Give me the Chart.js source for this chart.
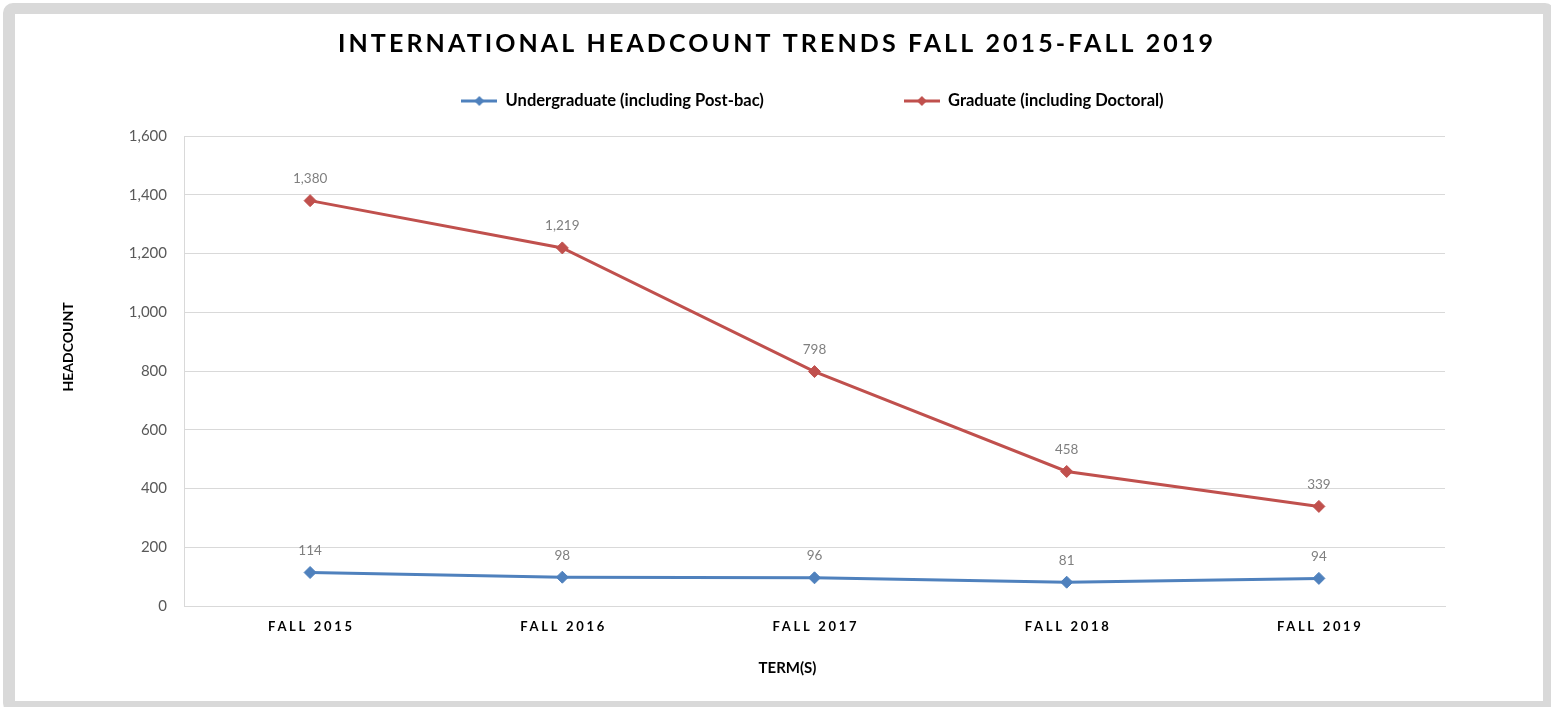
<!DOCTYPE html>
<html><head><meta charset="utf-8">
<script src="https://cdn.jsdelivr.net/npm/chart.js@4/dist/chart.umd.min.js"></script>
<style>
html,body{margin:0;padding:0;background:#fff;overflow:hidden;width:1551px;height:707px;}
#frame{position:absolute;left:3px;top:3px;width:1552px;height:710px;box-sizing:border-box;border:12px solid #d9d9d9;border-top-width:11px;border-radius:10px;background:#fff;}
#c{position:absolute;left:0;top:0;}
</style></head><body>
<div id="frame"></div>
<canvas id="c" width="1551" height="707"></canvas>
<script>
// ---- data ----
const categories = ['FALL 2015', 'FALL 2016', 'FALL 2017', 'FALL 2018', 'FALL 2019'];
const undergraduate = [114, 98, 96, 81, 94];
const graduate = [1380, 1219, 798, 458, 339];
const seriesNames = ['Undergraduate (including Post-bac)', 'Graduate (including Doctoral)'];
const yTickValues = [0, 200, 400, 600, 800, 1000, 1200, 1400, 1600];
const chartTitle = 'INTERNATIONAL HEADCOUNT TRENDS FALL 2015-FALL 2019';
const yAxisTitle = 'HEADCOUNT';
const xAxisTitle = 'TERM(S)';

// ---- styling ----
const FAMILY = "Lato, 'Open Sans', 'Liberation Sans', sans-serif";
const BLUE = '#4f81bd';
const RED = '#c0504d';
const GRID = '#d9d9d9';
const TITLE_SIZE = 25;
const TITLE_TARGET_W = 875;
const TITLE_CENTER_X = 775.5;
const XTICK_SIZE = 13;
const XTICK_TARGET_W = 84;
const LEGEND_SIZE = 16.5;
const LEGEND_GAP = 140;
const LEGEND_CENTER_X = 812.5;
const LEGEND_CENTER_Y = 101;
const LEGEND_BOX_H = 68;

Chart.defaults.font.family = FAMILY;

function measure(text, font) {
  const g = document.createElement('canvas').getContext('2d');
  g.font = font;
  return g.measureText(text).width;
}
const titleSpacing = (TITLE_TARGET_W - measure(chartTitle, 'bold ' + TITLE_SIZE + 'px ' + FAMILY)) / (chartTitle.length - 1);
const xTickSpacing = (XTICK_TARGET_W - measure(categories[0], 'bold ' + XTICK_SIZE + 'px ' + FAMILY)) / (categories[0].length - 1);

function legendMarker(color) {
  const c = document.createElement('canvas');
  c.width = 36; c.height = 14;
  const g = c.getContext('2d');
  g.strokeStyle = color; g.lineWidth = 3;
  g.beginPath(); g.moveTo(0, 7); g.lineTo(36, 7); g.stroke();
  g.fillStyle = color;
  g.beginPath(); g.moveTo(18, 2); g.lineTo(23, 7); g.lineTo(18, 12); g.lineTo(13, 7); g.closePath(); g.fill();
  return c;
}
const markers = [legendMarker(BLUE), legendMarker(RED)];

function wrap(obj, name, before) {
  const orig = obj[name];
  obj[name] = function () {
    const ctx = this.ctx;
    ctx.save();
    before.call(this, ctx);
    const r = orig.apply(this, arguments);
    ctx.restore();
    return r;
  };
}

const patches = {
  id: 'patches',
  beforeLayout(chart) {
    const lg = chart.legend;
    if (lg && !lg._patched) {
      lg._patched = true;
      const fit0 = lg.fit;
      lg.fit = function () { fit0.apply(this, arguments); this.height = LEGEND_BOX_H; };
      const key = typeof lg._draw === 'function' ? '_draw' : 'draw';
      wrap(lg, key, function (ctx) {
        const dy = (LEGEND_CENTER_Y - LEGEND_SIZE / 2) - (this.top + this.options.labels.padding);
        const dx = LEGEND_CENTER_X - (this.left + this.right) / 2;
        ctx.translate(dx, dy);
      });
    }
    const tb = chart.titleBlock;
    if (tb && !tb._patched) {
      tb._patched = true;
      wrap(tb, 'draw', function (ctx) {
        ctx.letterSpacing = titleSpacing + 'px';
        ctx.translate(TITLE_CENTER_X - (this.left + this.right) / 2 + titleSpacing / 2, 0);
      });
    }
  },
  beforeDraw(chart) {
    const x = chart.scales.x, y = chart.scales.y;
    if (x && !x._patched) {
      x._patched = true;
      wrap(x, 'drawLabels', function (ctx) { ctx.letterSpacing = xTickSpacing + 'px'; ctx.translate(xTickSpacing / 2, 0); });
      wrap(x, 'drawTitle', function (ctx) { ctx.translate(-27, 0); });
    }
    if (y && !y._patched) {
      y._patched = true;
      wrap(y, 'drawTitle', function (ctx) { ctx.translate(0, -24); });
    }
  }
};

const valueLabels = {
  id: 'valueLabels',
  afterDatasetsDraw(chart) {
    const ctx = chart.ctx;
    ctx.save();
    ctx.font = '13.5px ' + FAMILY;
    ctx.fillStyle = '#7f7f7f';
    ctx.textAlign = 'center';
    ctx.textBaseline = 'middle';
    chart.data.datasets.forEach((ds, i) => {
      const meta = chart.getDatasetMeta(i);
      meta.data.forEach((pt, j) => {
        ctx.fillText(ds.data[j].toLocaleString('en-US'), pt.x, pt.y - 22);
      });
    });
    ctx.restore();
  }
};

new Chart(document.getElementById('c'), {
  type: 'line',
  data: {
    labels: categories,
    datasets: [
      { label: seriesNames[0], data: undergraduate, borderColor: BLUE, backgroundColor: BLUE,
        borderWidth: 3, pointStyle: 'rectRot', pointRadius: 6, pointBorderWidth: 1,
        pointBackgroundColor: BLUE, pointBorderColor: BLUE, tension: 0, fill: false },
      { label: seriesNames[1], data: graduate, borderColor: RED, backgroundColor: RED,
        borderWidth: 3, pointStyle: 'rectRot', pointRadius: 6, pointBorderWidth: 1,
        pointBackgroundColor: RED, pointBorderColor: RED, tension: 0, fill: false }
    ]
  },
  options: {
    responsive: false,
    animation: false,
    devicePixelRatio: 1,
    layout: { padding: { left: 0, right: 106, top: 0, bottom: 0 } },
    plugins: {
      tooltip: { enabled: false },
      title: {
        display: true, text: chartTitle, color: '#000',
        font: { size: TITLE_SIZE, weight: 'bold', family: FAMILY, lineHeight: 1.2 },
        padding: { top: 29, bottom: 9 }
      },
      legend: {
        display: true, position: 'top',
        labels: {
          usePointStyle: true, pointStyleWidth: 36, padding: LEGEND_GAP, color: '#000',
          font: { size: LEGEND_SIZE, weight: 'bold', family: FAMILY },
          generateLabels(chart) {
            const items = Chart.defaults.plugins.legend.labels.generateLabels(chart);
            items.forEach((it, i) => { it.pointStyle = markers[i]; it.fontColor = '#000'; });
            return items;
          }
        }
      }
    },
    scales: {
      x: {
        type: 'category', offset: true,
        grid: { display: false, drawTicks: false },
        border: { display: true, color: GRID, width: 1 },
        ticks: { color: '#000', padding: 13, maxRotation: 0, font: { size: XTICK_SIZE, weight: 'bold', family: FAMILY } },
        title: { display: true, text: xAxisTitle, color: '#000', font: { size: 15, weight: 'bold', family: FAMILY }, padding: { top: 0, bottom: 30 } },
        afterFit(scale) { scale.height = 101; }
      },
      y: {
        min: yTickValues[0], max: yTickValues[yTickValues.length - 1],
        grid: { color: GRID, lineWidth: 1, drawTicks: false },
        border: { display: true, color: GRID, width: 1 },
        ticks: { stepSize: yTickValues[1] - yTickValues[0], color: '#595959', padding: 17,
          font: { size: 15, family: FAMILY },
          callback: (v) => v.toLocaleString('en-US') },
        title: { display: true, text: yAxisTitle, color: '#000', font: { size: 14, weight: 'bold', family: FAMILY }, padding: { top: 60, bottom: 0 } },
        afterFit(scale) { scale.width = 184; }
      }
    }
  },
  plugins: [patches, valueLabels]
});
</script>
</body></html>
